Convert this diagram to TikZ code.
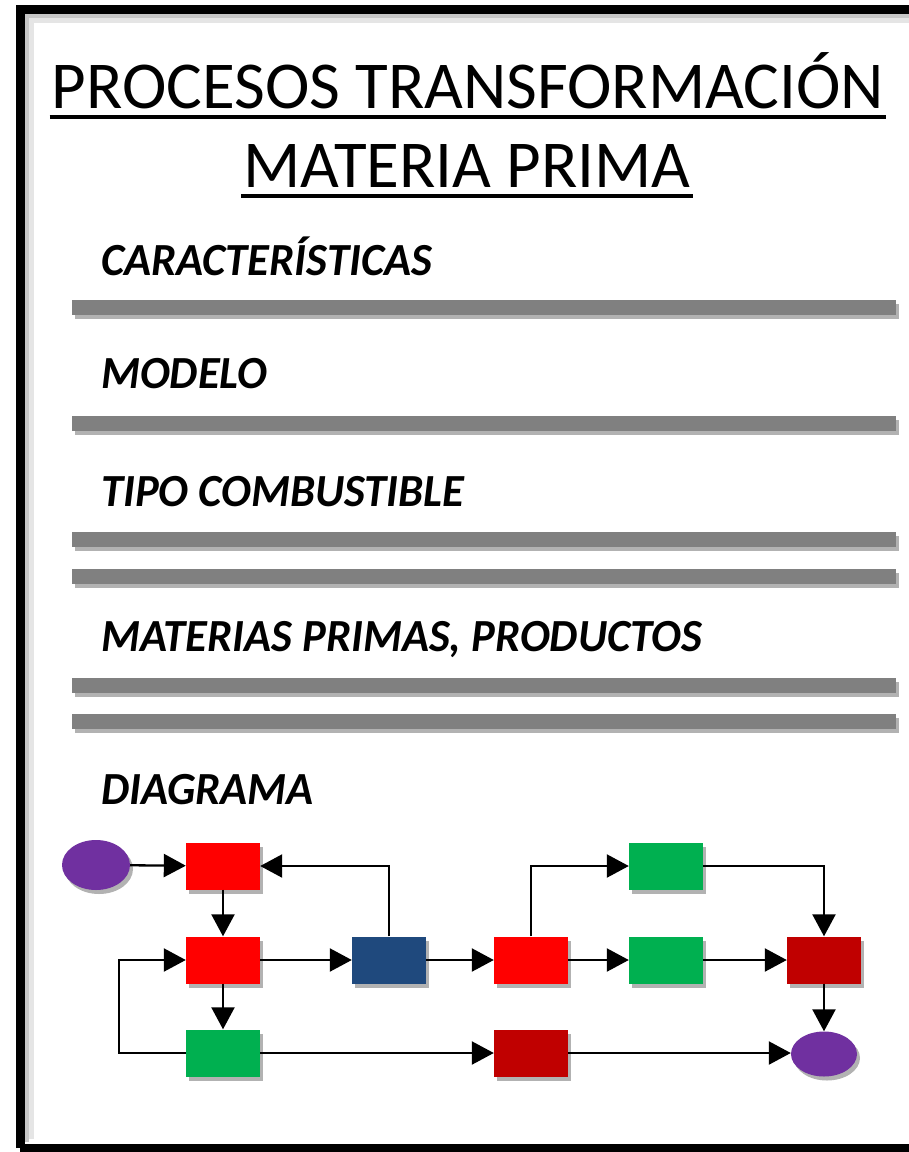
\documentclass[tikz,border=0pt]{standalone}
\usepackage{fontspec}
\setmainfont{Carlito}
\usetikzlibrary{arrows.meta,shadows,shapes.geometric}
\definecolor{cred}{HTML}{FF0000}
\definecolor{cgreen}{HTML}{00B050}
\definecolor{cblue}{HTML}{1F497D}
\definecolor{cdred}{HTML}{C00000}
\definecolor{cpurp}{HTML}{7030A0}
\definecolor{cbar}{HTML}{808080}
\tikzset{
  sh/.style={drop shadow={shadow xshift=3pt,shadow yshift=-4pt,opacity=.3,fill=black}},
  boxnode/.style={rectangle,minimum width=74pt,minimum height=47pt,inner sep=0pt,sh},
  ellnode/.style={ellipse,fill=cpurp,inner sep=0pt,sh},
  conn/.style={line width=2.3pt,-{Triangle[length=22pt,width=23pt]}},
  heading/.style={anchor=base west,inner sep=0pt,xscale=0.97,font=\fontsize{46}{50}\selectfont\bfseries\itshape},
  titletext/.style={anchor=base,inner sep=0pt,font=\fontsize{67}{72}\selectfont},
  bar/.style={fill=cbar,sh},
}
\begin{document}
\begin{tikzpicture}[x=1pt,y=-1pt]
\useasboundingbox (0,0) rectangle (909,1152);
\clip (0,0) rectangle (909,1152);
\fill[white] (0,0) rectangle (909,1152);
% frame inner soft shadow
\draw[line width=8pt,black!10] (30,1139) -- (30,19) -- (940,19);
\draw[line width=4pt,black!22] (27,1142) -- (27,16) -- (940,16);
\draw[line width=9pt] (20,1148) -- (20,9) -- (950,9);
\draw[line width=9pt] (20,1148) -- (950,1148);
% title
\node[titletext] (t1) at (468,108) {PROCESOS TRANSFORMACIÓN};
\node[titletext] (t2) at (467,187) {MATERIA PRIMA};
\draw[line width=4pt] ([xshift=-2pt,yshift=-9pt]t1.base west) -- ([xshift=2pt,yshift=-9pt]t1.base east);
\draw[line width=4pt] ([xshift=-2pt,yshift=-9pt]t2.base west) -- ([xshift=2pt,yshift=-9pt]t2.base east);
% headings
\node[heading] (h1) at (101,275) {CARACTERÍSTICAS};
\node[heading] (h2) at (101,388) {MODELO};
\node[heading] (h3) at (101,506) {TIPO COMBUSTIBLE};
\node[heading] (h4) at (101,651) {MATERIAS PRIMAS, PRODUCTOS};
\node[heading] (h5) at (101,804) {DIAGRAMA};
% bars
\foreach \yy in {307,423,539,576,685,721}{
  \path[bar] (72,\yy-7.5) rectangle (896,\yy+7.5);
}
% diagram nodes
\node[ellnode,minimum width=68pt,minimum height=50pt] (s) at (96,865) {};
\node[boxnode,fill=cred] (r1) at (223,866) {};
\node[boxnode,fill=cred] (r2) at (223,960) {};
\node[boxnode,fill=cgreen] (g1) at (223,1053) {};
\node[boxnode,fill=cblue] (b) at (389,960) {};
\node[boxnode,fill=cred] (r3) at (531,960) {};
\node[boxnode,fill=cgreen] (gt) at (666,866) {};
\node[boxnode,fill=cgreen] (gm) at (666,960) {};
\node[boxnode,fill=cdred] (d1) at (824,960) {};
\node[boxnode,fill=cdred] (d2) at (531,1053) {};
\node[ellnode,minimum width=66pt,minimum height=45pt] (e) at (824,1054) {};
% connectors
\draw[conn] (s) -- (r1);
\draw[conn] (r1) -- (r2);
\draw[conn] (r2) -- (b);
\draw[conn] (r2) -- (g1);
\draw[conn] (b.north) |- (r1.east);
\draw[conn] (g1.west) -- ++(-67,0) |- (r2.west);
\draw[conn] (g1) -- (d2);
\draw[conn] (b) -- (r3);
\draw[conn] (r3.north) |- (gt.west);
\draw[conn] (r3) -- (gm);
\draw[conn] (gm) -- (d1);
\draw[conn] (gt.east) -| (d1.north);
\draw[conn] (d1) -- (e);
\draw[conn] (d2.east) -- (e.west |- d2.east);
\end{tikzpicture}
\end{document}
